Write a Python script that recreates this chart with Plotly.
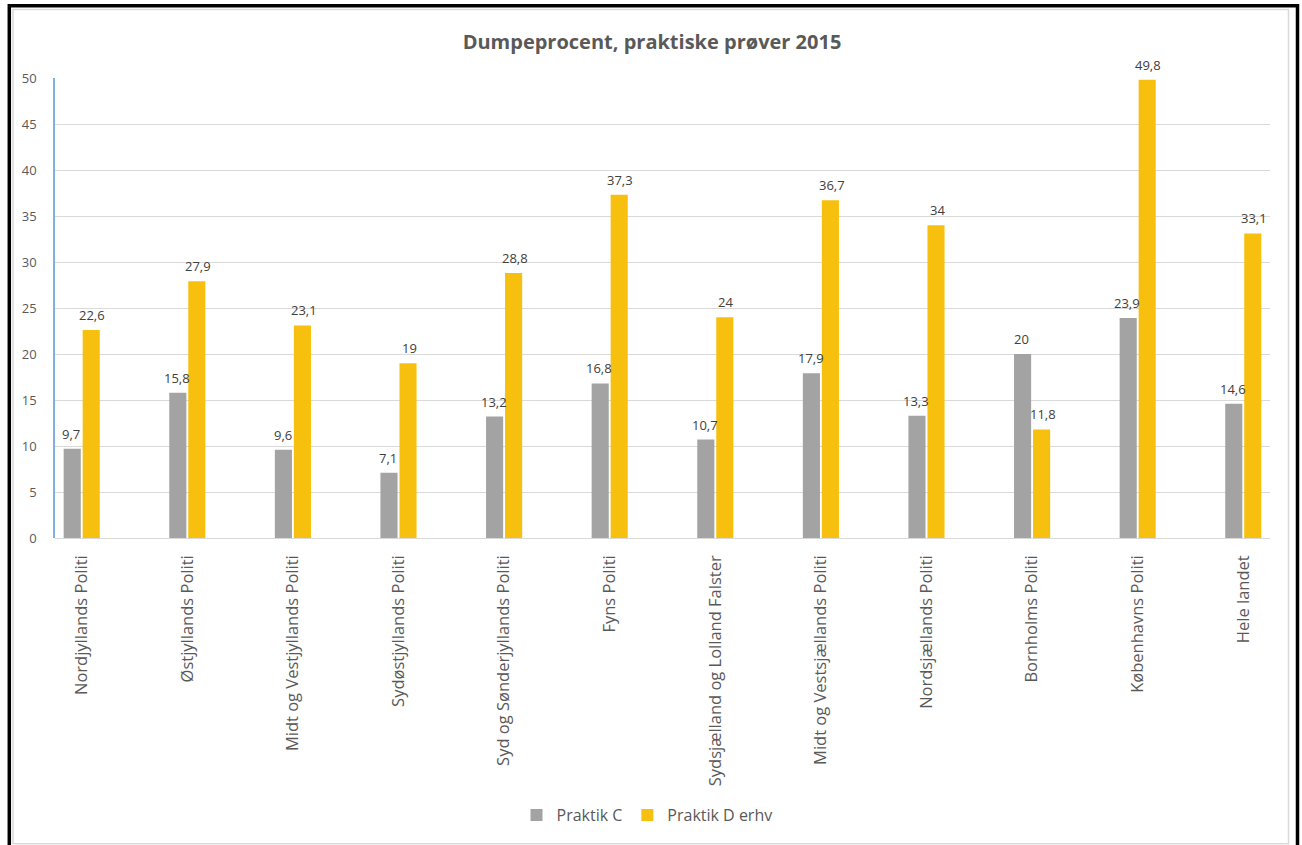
import plotly.graph_objects as go

categories = ["Nordjyllands Politi", "Østjyllands Politi", "Midt og Vestjyllands Politi",
              "Sydøstjyllands Politi", "Syd og Sønderjyllands Politi", "Fyns Politi",
              "Sydsjælland og Lolland Falster", "Midt og Vestsjællands Politi",
              "Nordsjællands Politi", "Bornholms Politi", "Københavns Politi", "Hele landet"]
praktik_c = [9.7, 15.8, 9.6, 7.1, 13.2, 16.8, 10.7, 17.9, 13.3, 20, 23.9, 14.6]
praktik_d = [22.6, 27.9, 23.1, 19, 28.8, 37.3, 24, 36.7, 34, 11.8, 49.8, 33.1]
y_ticks = [0, 5, 10, 15, 20, 25, 30, 35, 40, 45, 50]

W, H = 1302, 845
L, R, T, B = 55, 1270, 78, 538
PW, PH = R - L, B - T


def fx(px):
    return (px - L) / PW


def fy(py):
    return 1 - (py - T) / PH


def fmt(v):
    return f"{v:g}".replace(".", ",")


FONT = "'Open Sans', 'Noto Sans', sans-serif"
TXT = "#595959"

fig = go.Figure()
fig.add_trace(go.Bar(name="Praktik C", x=categories, y=praktik_c,
                     marker=dict(color="#a3a3a3", line=dict(width=0))))
fig.add_trace(go.Bar(name="Praktik D erhv", x=categories, y=praktik_d,
                     marker=dict(color="#f8c00e", line=dict(width=0))))

annotations = []
for c, v in zip(categories, praktik_c):
    annotations.append(dict(x=c, y=v, xref="x", yref="y", text=fmt(v), showarrow=False,
                            xshift=-10.4, yshift=4, yanchor="bottom",
                            font=dict(family=FONT, size=13, color="#404040")))
for c, v in zip(categories, praktik_d):
    annotations.append(dict(x=c, y=v, xref="x", yref="y", text=fmt(v), showarrow=False,
                            xshift=10.6, yshift=4, yanchor="bottom",
                            font=dict(family=FONT, size=13, color="#404040")))

shapes = [
    dict(type="rect", xref="paper", yref="paper", x0=fx(13), x1=fx(1288.5), y0=fy(9.5), y1=fy(843.8),
         line=dict(color="#d9d9d9", width=1.5), layer="below"),
    dict(type="rect", xref="paper", yref="paper", x0=fx(9.3), x1=fx(1297.5), y0=fy(5.7), y1=fy(870),
         line=dict(color="#000000", width=3.5)),
]

fig.update_layout(
    width=W, height=H,
    margin=dict(l=L, r=W - R, t=T, b=H - B, autoexpand=False),
    paper_bgcolor="white", plot_bgcolor="white",
    barmode="group", bargap=0.64, bargroupgap=0.1,
    title=dict(text="<b>Dumpeprocent, praktiske prøver 2015</b>", x=652 / W, xanchor="center",
               y=1 - 42 / H, yanchor="middle",
               font=dict(family=FONT, size=20, color=TXT)),
    font=dict(family=FONT, color=TXT),
    showlegend=True,
    legend=dict(orientation="h", x=fx(647), xanchor="center", y=fy(815), yanchor="middle",
                font=dict(family=FONT, size=16, color=TXT), itemclick=False,
                itemwidth=30, tracegroupgap=0),
    annotations=annotations,
    shapes=shapes,
    separators=", ",
)
fig.update_xaxes(type="category", range=[-0.253, 11.253], tickangle=-90,
                 tickfont=dict(family=FONT, size=16.5, color=TXT), showgrid=False,
                 showline=False, ticks="", ticklabelstandoff=13, fixedrange=True)
fig.update_yaxes(range=[0, 50], tickvals=y_ticks, ticktext=[str(t) for t in y_ticks],
                 showgrid=True, gridcolor="#d9d9d9", gridwidth=1,
                 zeroline=True, zerolinecolor="#d9d9d9", zerolinewidth=1,
                 showline=True, linecolor="#7fb0e0", linewidth=1.5,
                 tickfont=dict(family=FONT, size=13, color=TXT), ticks="",
                 ticklabelstandoff=14, fixedrange=True)

fig.write_html("out.html", config={"displayModeBar": False},
               post_script="document.body.style.margin='0';document.body.style.overflow='hidden';")
